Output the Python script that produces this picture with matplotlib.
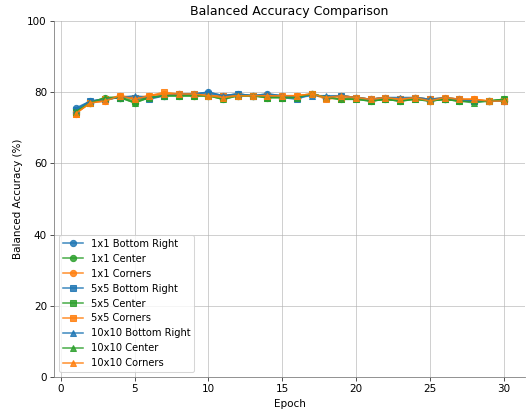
import matplotlib
matplotlib.use("Agg")
import matplotlib.pyplot as plt

epochs = list(range(1, 31))

# balanced accuracy (%) per epoch
acc_1x1_br = [75.5, 77.5, 78.0, 78.5, 78.5, 78.5, 79.0, 79.5, 79.5, 80.0, 79.0, 79.5, 79.0, 79.5, 79.0,
              78.5, 79.5, 78.5, 79.0, 78.5, 78.0, 78.5, 78.0, 78.5, 78.0, 78.0, 78.0, 77.5, 77.5, 77.5]
acc_1x1_c = [74.5, 77.0, 78.5, 78.5, 77.0, 78.5, 79.0, 79.0, 79.0, 79.0, 78.0, 79.0, 79.0, 78.5, 78.5,
             78.5, 79.5, 78.5, 78.0, 78.5, 77.5, 78.0, 77.5, 78.5, 77.5, 78.0, 77.5, 77.5, 77.5, 78.0]
acc_1x1_co = [74.0, 77.0, 77.5, 79.0, 78.0, 79.0, 79.5, 79.5, 79.0, 79.0, 78.5, 79.0, 79.0, 79.0, 79.0,
              79.0, 79.5, 78.5, 79.0, 78.5, 78.0, 78.5, 78.0, 78.5, 77.5, 78.5, 78.0, 78.0, 77.5, 77.5]
acc_5x5_br = [75.0, 77.5, 78.0, 78.5, 78.5, 78.0, 79.0, 79.5, 79.5, 79.5, 79.0, 79.5, 79.0, 79.0, 78.5,
              78.0, 79.5, 78.5, 79.0, 78.5, 78.0, 78.5, 78.0, 78.5, 78.0, 78.0, 78.0, 77.5, 77.5, 77.5]
acc_5x5_c = [74.5, 77.0, 78.0, 78.5, 77.5, 78.5, 79.0, 79.0, 79.0, 79.0, 78.5, 79.0, 79.0, 78.5, 78.5,
             78.5, 79.5, 78.5, 78.0, 78.0, 77.5, 78.0, 77.5, 78.0, 77.5, 78.0, 77.5, 77.5, 77.5, 78.0]
acc_5x5_co = [74.0, 77.0, 78.0, 79.0, 78.5, 79.0, 80.0, 79.5, 79.5, 79.0, 79.0, 79.0, 79.0, 79.0, 79.0,
              79.0, 79.5, 78.0, 78.5, 78.5, 78.0, 78.5, 78.0, 78.5, 78.0, 78.5, 78.0, 78.0, 77.5, 77.5]
acc_10x10_br = [75.0, 77.5, 78.0, 78.5, 79.0, 78.5, 79.0, 79.5, 79.5, 80.0, 79.0, 79.5, 79.0, 79.5, 79.0,
                78.5, 79.0, 79.0, 79.0, 78.5, 78.0, 78.5, 78.5, 78.5, 78.0, 78.5, 78.0, 77.5, 77.5, 77.5]
acc_10x10_c = [74.5, 77.0, 78.5, 78.5, 77.0, 78.5, 79.0, 79.0, 79.0, 79.0, 78.0, 79.0, 79.0, 78.5, 78.5,
               78.5, 79.5, 78.5, 78.0, 78.0, 77.5, 78.0, 77.5, 78.0, 77.5, 78.0, 77.5, 77.0, 77.5, 78.0]
acc_10x10_co = [74.0, 77.0, 77.5, 79.0, 78.0, 79.0, 79.5, 79.5, 79.5, 79.0, 78.5, 79.0, 79.0, 79.0, 79.0,
                79.0, 79.5, 78.5, 79.0, 78.5, 78.0, 78.5, 78.0, 78.5, 77.5, 78.5, 78.0, 78.0, 77.5, 77.5]

series = [
    ("1x1 Bottom Right", acc_1x1_br, "tab:blue", "o"),
    ("1x1 Center", acc_1x1_c, "tab:green", "o"),
    ("1x1 Corners", acc_1x1_co, "tab:orange", "o"),
    ("5x5 Bottom Right", acc_5x5_br, "tab:blue", "s"),
    ("5x5 Center", acc_5x5_c, "tab:green", "s"),
    ("5x5 Corners", acc_5x5_co, "tab:orange", "s"),
    ("10x10 Bottom Right", acc_10x10_br, "tab:blue", "^"),
    ("10x10 Center", acc_10x10_c, "tab:green", "^"),
    ("10x10 Corners", acc_10x10_co, "tab:orange", "^"),
]

fig, ax = plt.subplots(figsize=(526 / 75, 410 / 75), dpi=75)
fig.subplots_adjust(left=0.103, right=0.998, top=0.949, bottom=0.080)

for name, vals, col, mk in series:
    ax.plot(epochs, vals, color=col, marker=mk, label=name, alpha=0.85)

ax.set_ylim(0, 100)
ax.set_title("Balanced Accuracy Comparison")
ax.set_xlabel("Epoch")
ax.set_ylabel("Balanced Accuracy (%)")
ax.grid(True, color="#b0b0b0", alpha=0.7)
ax.spines["top"].set_visible(False)
ax.spines["right"].set_visible(False)
ax.spines["left"].set_color("gray")
ax.spines["bottom"].set_color("gray")
ax.tick_params(colors="#333333", labelcolor="black")
ax.legend(loc="lower left", fontsize=9.5)

fig.savefig("out.png", dpi=75)
